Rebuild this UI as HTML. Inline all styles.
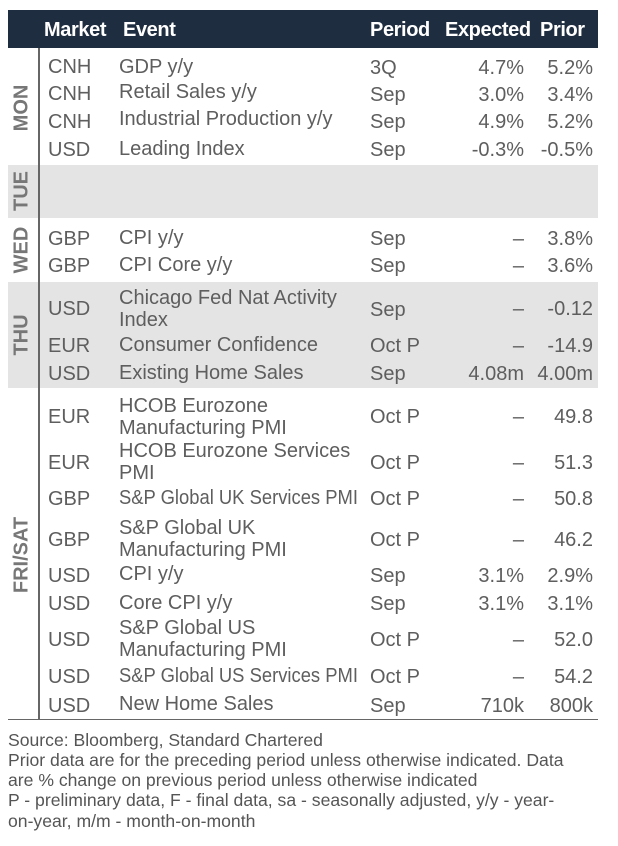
<!DOCTYPE html>
<html><head><meta charset="utf-8"><style>
body{margin:0;width:618px;height:846px;background:#fff;position:relative;overflow:hidden;font-family:"Liberation Sans",Arial,sans-serif;color:#5e5e5e}
.a{position:absolute;white-space:nowrap;font-size:20px;line-height:22px}
.hd{position:absolute;left:8px;top:10px;width:590px;height:38px;background:#1f2d40}
.h{position:absolute;color:#fff;font-weight:bold;font-size:20px;top:19px;line-height:22px;letter-spacing:-0.4px}
.g{position:absolute;left:8px;width:590px;background:#e4e4e4}
.d{position:absolute;font-weight:bold;font-size:20px;color:#777;transform:translate(-50%,-50%) rotate(-90deg);white-space:nowrap;left:22px}
.r{text-align:right}
.f{position:absolute;left:8px;font-size:17.6px;line-height:20px;color:#555;white-space:nowrap}
.c{transform-origin:left center;transform:scaleX(0.92);display:inline-block}
</style></head><body>
<div class="hd"></div>
<div class="h" style="left:44px">Market</div>
<div class="h" style="left:123px">Event</div>
<div class="h" style="left:370px">Period</div>
<div class="h" style="left:445px">Expected</div>
<div class="h" style="left:540px">Prior</div>
<div class="g" style="top:165px;height:53px"></div>
<div class="g" style="top:282px;height:106px"></div>
<div style="position:absolute;left:38px;top:48px;width:2px;height:672px;background:#666"></div>
<div style="position:absolute;left:8px;top:719px;width:590px;height:1px;background:#666"></div>
<div class="d" style="top:108px">MON</div>
<div class="d" style="top:191px">TUE</div>
<div class="d" style="top:250px">WED</div>
<div class="d" style="top:335px">THU</div>
<div class="d" style="top:555px">FRI/SAT</div>

<div class="a" style="left:48px;top:56px">CNH</div><div class="a" style="left:119px;top:56px">GDP y/y</div><div class="a" style="left:370px;top:57px">3Q</div><div class="a r" style="right:94px;top:57px">4.7%</div><div class="a r" style="right:25px;top:57px">5.2%</div>
<div class="a" style="left:48px;top:83px">CNH</div><div class="a" style="left:119px;top:81px">Retail Sales y/y</div><div class="a" style="left:370px;top:84px">Sep</div><div class="a r" style="right:94px;top:84px">3.0%</div><div class="a r" style="right:25px;top:84px">3.4%</div>
<div class="a" style="left:48px;top:111px">CNH</div><div class="a" style="left:119px;top:108px">Industrial Production y/y</div><div class="a" style="left:370px;top:111px">Sep</div><div class="a r" style="right:94px;top:111px">4.9%</div><div class="a r" style="right:25px;top:111px">5.2%</div>
<div class="a" style="left:48px;top:139px">USD</div><div class="a" style="left:119px;top:138px">Leading Index</div><div class="a" style="left:370px;top:139px">Sep</div><div class="a r" style="right:94px;top:139px">-0.3%</div><div class="a r" style="right:25px;top:139px">-0.5%</div>

<div class="a" style="left:48px;top:228px">GBP</div><div class="a" style="left:119px;top:227px">CPI y/y</div><div class="a" style="left:370px;top:228px">Sep</div><div class="a r" style="right:94px;top:228px">–</div><div class="a r" style="right:25px;top:228px">3.8%</div>
<div class="a" style="left:48px;top:255px">GBP</div><div class="a" style="left:119px;top:254px">CPI Core y/y</div><div class="a" style="left:370px;top:255px">Sep</div><div class="a r" style="right:94px;top:255px">–</div><div class="a r" style="right:25px;top:255px">3.6%</div>

<div class="a" style="left:48px;top:298px">USD</div><div class="a" style="left:119px;top:287px">Chicago Fed Nat Activity<br>Index</div><div class="a" style="left:370px;top:299px">Sep</div><div class="a r" style="right:94px;top:298px">–</div><div class="a r" style="right:25px;top:298px">-0.12</div>
<div class="a" style="left:48px;top:335px">EUR</div><div class="a" style="left:119px;top:334px">Consumer Confidence</div><div class="a" style="left:370px;top:335px">Oct P</div><div class="a r" style="right:94px;top:335px">–</div><div class="a r" style="right:25px;top:335px">-14.9</div>
<div class="a" style="left:48px;top:363px">USD</div><div class="a" style="left:119px;top:362px">Existing Home Sales</div><div class="a" style="left:370px;top:363px">Sep</div><div class="a r" style="right:94px;top:363px">4.08m</div><div class="a r" style="right:25px;top:363px">4.00m</div>

<div class="a" style="left:48px;top:406px">EUR</div><div class="a" style="left:119px;top:395px">HCOB Eurozone<br>Manufacturing PMI</div><div class="a" style="left:370px;top:406px">Oct P</div><div class="a r" style="right:94px;top:406px">–</div><div class="a r" style="right:25px;top:406px">49.8</div>
<div class="a" style="left:48px;top:452px">EUR</div><div class="a" style="left:119px;top:440px">HCOB Eurozone Services<br>PMI</div><div class="a" style="left:370px;top:452px">Oct P</div><div class="a r" style="right:94px;top:452px">–</div><div class="a r" style="right:25px;top:452px">51.3</div>
<div class="a" style="left:48px;top:488px">GBP</div><div class="a" style="left:119px;top:487px"><span class="c">S&amp;P Global UK Services PMI</span></div><div class="a" style="left:370px;top:488px">Oct P</div><div class="a r" style="right:94px;top:488px">–</div><div class="a r" style="right:25px;top:488px">50.8</div>
<div class="a" style="left:48px;top:529px">GBP</div><div class="a" style="left:119px;top:517px">S&amp;P Global UK<br>Manufacturing PMI</div><div class="a" style="left:370px;top:529px">Oct P</div><div class="a r" style="right:94px;top:529px">–</div><div class="a r" style="right:25px;top:529px">46.2</div>
<div class="a" style="left:48px;top:565px">USD</div><div class="a" style="left:119px;top:563px">CPI y/y</div><div class="a" style="left:370px;top:565px">Sep</div><div class="a r" style="right:94px;top:565px">3.1%</div><div class="a r" style="right:25px;top:565px">2.9%</div>
<div class="a" style="left:48px;top:593px">USD</div><div class="a" style="left:119px;top:592px">Core CPI y/y</div><div class="a" style="left:370px;top:593px">Sep</div><div class="a r" style="right:94px;top:593px">3.1%</div><div class="a r" style="right:25px;top:593px">3.1%</div>
<div class="a" style="left:48px;top:629px">USD</div><div class="a" style="left:119px;top:617px">S&amp;P Global US<br>Manufacturing PMI</div><div class="a" style="left:370px;top:629px">Oct P</div><div class="a r" style="right:94px;top:629px">–</div><div class="a r" style="right:25px;top:629px">52.0</div>
<div class="a" style="left:48px;top:666px">USD</div><div class="a" style="left:119px;top:665px"><span class="c">S&amp;P Global US Services PMI</span></div><div class="a" style="left:370px;top:666px">Oct P</div><div class="a r" style="right:94px;top:666px">–</div><div class="a r" style="right:25px;top:666px">54.2</div>
<div class="a" style="left:48px;top:695px">USD</div><div class="a" style="left:119px;top:693px">New Home Sales</div><div class="a" style="left:370px;top:695px">Sep</div><div class="a r" style="right:94px;top:695px">710k</div><div class="a r" style="right:25px;top:695px">800k</div>

<div class="f" style="top:730px">Source: Bloomberg, Standard Chartered</div>
<div class="f" style="top:750px">Prior data are for the preceding period unless otherwise indicated. Data</div>
<div class="f" style="top:770px">are % change on previous period unless otherwise indicated</div>
<div class="f" style="top:790px">P - preliminary data, F - final data, sa - seasonally adjusted, y/y - year-</div>
<div class="f" style="top:811px">on-year, m/m - month-on-month</div>
</body></html>
